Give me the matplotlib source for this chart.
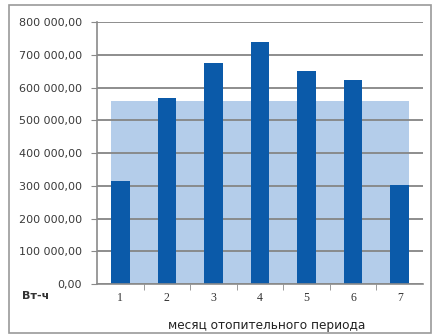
import matplotlib
matplotlib.use('Agg')
import matplotlib.pyplot as plt
from matplotlib.patches import Rectangle
from matplotlib.ticker import FuncFormatter

months = [1, 2, 3, 4, 5, 6, 7]
energy = [315000, 567000, 674000, 740000, 650000, 623000, 302000]
level = 560000
y_ticks = [0, 100000, 200000, 300000, 400000, 500000, 600000, 700000, 800000]

fig = plt.figure(figsize=(4.33, 3.35), dpi=100)
fig.patch.set_facecolor('white')
ax = fig.add_axes([0.224, 0.152, 0.753, 0.782])

bw = 0.4
# light band behind bars
ax.bar([(months[0] + months[-1]) / 2], [level], width=months[-1] - months[0] + bw,
       color='#b4cdea', zorder=1)
ax.bar(months, energy, width=bw, color='#0b5aa9', zorder=3)

ax.set_xlim(0.5, 7.5)
ax.set_ylim(0, 800000)
ax.set_yticks(y_ticks)
ax.yaxis.set_major_formatter(FuncFormatter(lambda v, p: '{:,.2f}'.format(v).replace(',', ' ').replace('.', ',')))
ax.grid(axis='y', color='#858585', lw=1.3, zorder=2)
ax.set_axisbelow(False)
for g in ax.get_ygridlines():
    g.set_zorder(2)

ax.set_xticks(months)
ax.set_xticklabels([str(m) for m in months], family='Liberation Serif', fontsize=8.5, color='#333333')
ax.set_xticks([m + 0.5 for m in months[:-1]], minor=True)
ax.tick_params(axis='x', which='major', length=0, pad=6)
ax.tick_params(axis='x', which='minor', length=4, color='#8a8a8a', direction='out')
ax.tick_params(axis='y', length=4, color='#8a8a8a', labelsize=8, labelcolor='#3a3a3a', pad=7)

for s in ['top', 'right']:
    ax.spines[s].set_visible(False)
for s in ['left', 'bottom']:
    ax.spines[s].set_color('#8a8a8a')
    ax.spines[s].set_linewidth(1.2)
    ax.spines[s].set_zorder(4)

ax.set_xlabel('месяц отопительного периода', fontsize=8.7, color='#222222')
ax.xaxis.set_label_coords(0.52, -0.135)
fig.text(0.05, 0.116, 'Вт-ч', fontsize=8, fontweight='bold', color='#333333', va='center')

fig.patches.append(Rectangle((0.021, 0.006), 0.974, 0.978, transform=fig.transFigure,
                             fill=False, edgecolor='#9a9a9a', lw=1.2))

fig.savefig('out.png', dpi=100)
